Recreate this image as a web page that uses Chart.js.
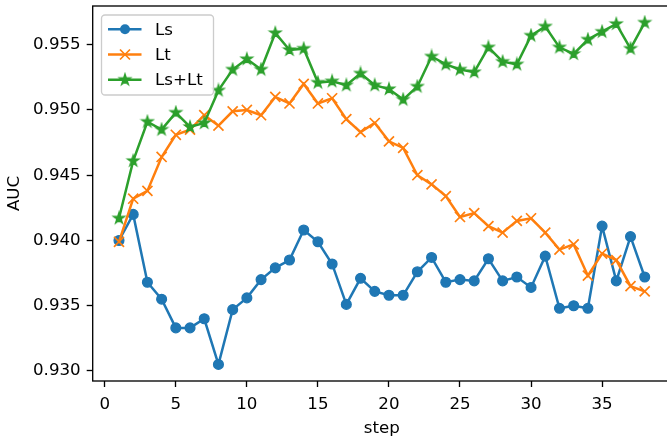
<!DOCTYPE html>
<html>
<head>
<meta charset="utf-8">
<script src="https://cdn.jsdelivr.net/npm/chart.js@4"></script>
<style>
  html, body { margin: 0; padding: 0; background: #fff; overflow: hidden; }
  #wrap { width: 667px; height: 439px; overflow: hidden; }
  canvas { display: block; }
</style>
</head>
<body>
<div id="wrap"><canvas id="aucChart" width="672" height="439" style="width:672px;height:439px"></canvas></div>
<script>
const steps = [1, 2, 3, 4, 5, 6, 7, 8, 9, 10, 11, 12, 13, 14, 15, 16, 17, 18, 19, 20,
               21, 22, 23, 24, 25, 26, 27, 28, 29, 30, 31, 32, 33, 34, 35, 36, 37, 38];
const lsValues = [0.9400, 0.9420, 0.9368, 0.9355, 0.9333, 0.9333, 0.9340, 0.9305, 0.9347, 0.9356,
                  0.9370, 0.9379, 0.9385, 0.9408, 0.9399, 0.9382, 0.9351, 0.9371, 0.9361, 0.9358,
                  0.9358, 0.9376, 0.9387, 0.9368, 0.9370, 0.9369, 0.9386, 0.9369, 0.9372, 0.9364,
                  0.9388, 0.9348, 0.9350, 0.9348, 0.9411, 0.9369, 0.9403, 0.9372];
const ltValues = [0.9399, 0.9432, 0.9438, 0.9464, 0.9481, 0.9485, 0.9496, 0.9488, 0.9499, 0.9500,
                  0.9496, 0.9510, 0.9505, 0.9520, 0.9505, 0.9509, 0.9493, 0.9483, 0.9490, 0.9476,
                  0.9471, 0.9450, 0.9443, 0.9434, 0.9418, 0.9421, 0.9411, 0.9406, 0.9415, 0.9417,
                  0.9406, 0.9393, 0.9397, 0.9373, 0.9390, 0.9385, 0.9365, 0.9361];
const lsLtValues = [0.9417, 0.9461, 0.9491, 0.9485, 0.9498, 0.9487, 0.9490, 0.9515, 0.9531, 0.9539,
                    0.9531, 0.9559, 0.9546, 0.9547, 0.9521, 0.9522, 0.9519, 0.9528, 0.9519, 0.9516,
                    0.9508, 0.9518, 0.9541, 0.9535, 0.9531, 0.9529, 0.9548, 0.9537, 0.9535, 0.9557,
                    0.9564, 0.9548, 0.9543, 0.9554, 0.9560, 0.9566, 0.9547, 0.9567];
const seriesNames = ['Ls', 'Lt', 'Ls+Lt'];
const xTicks = [0, 5, 10, 15, 20, 25, 30, 35];
const yTicks = [0.930, 0.935, 0.940, 0.945, 0.950, 0.955];

const FONT = 'DejaVu Sans';
const FS = 16.67;
const C0 = '#1f77b4', C1 = '#ff7f0e', C2 = '#2ca02c';

// filled star marker like matplotlib '*'
function makeStar(color, r) {
    const c = document.createElement('canvas');
    const s = Math.ceil(r * 2 + 4);
    c.width = s; c.height = s;
    const g = c.getContext('2d');
    g.beginPath();
    for (let i = 0; i < 10; i++) {
        const rr = i % 2 === 0 ? r : r * 0.382;
        const a = -Math.PI / 2 + i * Math.PI / 5;
        const px = s / 2 + rr * Math.cos(a), py = s / 2 + rr * Math.sin(a);
        if (i === 0) g.moveTo(px, py); else g.lineTo(px, py);
    }
    g.closePath();
    g.fillStyle = color;
    g.fill();
    g.lineWidth = 1.5;
    g.strokeStyle = color;
    g.lineJoin = 'miter';
    g.stroke();
    return c;
}
const starImg = makeStar(C2, 5.6);

function toPoints(vals) {
    return steps.map((s, i) => ({ x: s, y: vals[i] }));
}

// no auto padding from end labels, the plot box is fixed
function zeroPadding(scale) {
    scale.paddingTop = 0;
    scale.paddingBottom = 0;
    scale.paddingLeft = 0;
    scale.paddingRight = 0;
}

const frameAndLegend = {
    id: 'frameAndLegend',
    afterDraw(chart) {
        const ctx = chart.ctx;
        const a = chart.chartArea;
        ctx.save();
        ctx.strokeStyle = '#000';
        ctx.lineWidth = 1.33;
        ctx.strokeRect(a.left, a.top, a.right - a.left, a.bottom - a.top);

        // legend box, upper left
        const bx = 101.5, by = 15, bw = 112, bh = 80, rad = 3.5;
        ctx.beginPath();
        ctx.roundRect(bx, by, bw, bh, rad);
        ctx.fillStyle = 'rgba(255,255,255,0.8)';
        ctx.fill();
        ctx.strokeStyle = '#cccccc';
        ctx.lineWidth = 1.33;
        ctx.stroke();

        const colors = [C0, C1, C2];
        const rows = [29.3, 54.5, 79.7];
        ctx.font = FS + 'px "' + FONT + '"';
        ctx.textBaseline = 'middle';
        ctx.textAlign = 'left';
        seriesNames.forEach((name, i) => {
            const y = rows[i];
            ctx.strokeStyle = colors[i];
            ctx.lineWidth = 2.5;
            ctx.beginPath();
            ctx.moveTo(108, y);
            ctx.lineTo(141.5, y);
            ctx.stroke();
            const mx = 125;
            if (i === 0) {
                ctx.beginPath();
                ctx.arc(mx, y, 5, 0, Math.PI * 2);
                ctx.fillStyle = C0;
                ctx.fill();
            } else if (i === 1) {
                ctx.lineWidth = 1.7;
                ctx.beginPath();
                ctx.moveTo(mx - 5, y - 5); ctx.lineTo(mx + 5, y + 5);
                ctx.moveTo(mx - 5, y + 5); ctx.lineTo(mx + 5, y - 5);
                ctx.stroke();
            } else {
                ctx.drawImage(starImg, mx - starImg.width / 2, y - starImg.height / 2);
            }
            ctx.fillStyle = '#000';
            ctx.fillText(name, 155, y + 1);
        });
        ctx.restore();
    }
};

new Chart(document.getElementById('aucChart').getContext('2d'), {
    type: 'line',
    data: {
        datasets: [{
            label: seriesNames[0],
            data: toPoints(lsValues),
            borderColor: C0,
            backgroundColor: C0,
            borderWidth: 2.5,
            pointStyle: 'circle',
            pointRadius: 4.9,
            pointBorderWidth: 1.3,
            order: 3
        }, {
            label: seriesNames[1],
            data: toPoints(ltValues),
            borderColor: C1,
            backgroundColor: C1,
            borderWidth: 2.5,
            pointStyle: 'crossRot',
            pointRadius: 7.1,
            pointBorderWidth: 1.7,
            order: 2
        }, {
            label: seriesNames[2],
            data: toPoints(lsLtValues),
            borderColor: C2,
            backgroundColor: C2,
            borderWidth: 2.5,
            pointStyle: starImg,
            order: 1
        }]
    },
    options: {
        responsive: false,
        animation: false,
        devicePixelRatio: 1,
        layout: { autoPadding: false, padding: { left: 0, top: 6, right: 1, bottom: 0 } },
        plugins: { legend: { display: false }, tooltip: { enabled: false } },
        elements: { line: { tension: 0 } },
        scales: {
            x: {
                type: 'linear',
                min: -0.85,
                max: 39.85,
                afterBuildTicks: (scale) => { scale.ticks = xTicks.map(v => ({ value: v })); },
                afterFit: (scale) => { scale.height = 58; zeroPadding(scale); },
                grid: { display: true, drawOnChartArea: false, drawTicks: true, tickLength: 6, tickWidth: 1.33, tickColor: '#000' },
                border: { display: false },
                ticks: { color: '#000', padding: 8, maxRotation: 0, font: { family: FONT, size: FS } },
                title: { display: true, text: 'step', color: '#000', font: { family: FONT, size: FS }, padding: { top: 0, bottom: 0 } }
            },
            y: {
                type: 'linear',
                min: 0.92923,
                max: 0.95797,
                afterBuildTicks: (scale) => { scale.ticks = yTicks.map(v => ({ value: v })); },
                afterFit: (scale) => { scale.width = 92.7; zeroPadding(scale); },
                grid: { display: true, drawOnChartArea: false, drawTicks: true, tickLength: 6, tickWidth: 1.33, tickColor: '#000' },
                border: { display: false },
                ticks: { color: '#000', padding: 6, font: { family: FONT, size: FS }, callback: (v) => v.toFixed(3) },
                title: { display: true, text: 'AUC', color: '#000', font: { family: FONT, size: FS }, padding: { top: 5, bottom: 0 } }
            }
        }
    },
    plugins: [frameAndLegend]
});
</script>
</body>
</html>
